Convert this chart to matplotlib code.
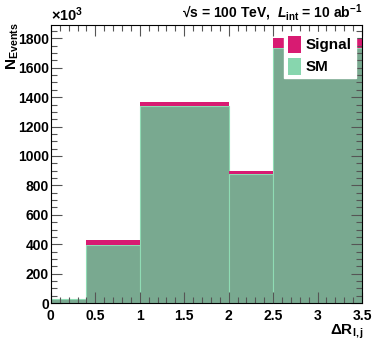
import numpy as np
import matplotlib
matplotlib.use('Agg')
import matplotlib.pyplot as plt
from matplotlib.patches import Patch
from matplotlib.ticker import MultipleLocator, FormatStrFormatter

plt.rcParams['font.family'] = ['Liberation Sans', 'DejaVu Sans']
plt.rcParams['mathtext.fontset'] = 'custom'
plt.rcParams['mathtext.rm'] = 'Liberation Sans:bold'
plt.rcParams['mathtext.it'] = 'Liberation Sans:bold:italic'
plt.rcParams['mathtext.bf'] = 'Liberation Sans:bold'

# bin edges in Delta R and event counts (x10^3)
edges = [0.0, 0.4, 1.0, 2.0, 2.5, 3.5]
sm = [27, 392, 1343, 875, 1735]
signal = [2, 40, 27, 20, 68]

sm_col = '#79a990'
sm_leg = '#87d6ae'
sig_col = '#d81b72'

fig = plt.figure(figsize=(3.74, 3.44), dpi=100)
ax = fig.add_axes([0.136, 0.119, 0.832, 0.808])

widths = np.diff(edges)
ax.bar(edges[:-1], sm, width=widths, align='edge', color=sm_col,
       edgecolor='#8fdcb4', linewidth=0.8)
ax.bar(edges[:-1], signal, width=widths, bottom=sm, align='edge',
       color=sig_col, linewidth=0)

ax.set_xlim(0, 3.5)
ax.set_ylim(0, 1890)
ax.xaxis.set_major_locator(MultipleLocator(0.5))
ax.xaxis.set_minor_locator(MultipleLocator(0.1))
ax.xaxis.set_major_formatter(FormatStrFormatter('%g'))
ax.yaxis.set_major_locator(MultipleLocator(200))
ax.yaxis.set_minor_locator(MultipleLocator(50))
ax.tick_params(which='both', direction='in', top=True, right=True,
               labelsize=10, width=0.8, color='#555555')
ax.tick_params(which='major', length=8)
ax.tick_params(which='minor', length=4)
ax.tick_params(axis='x', pad=4)
ax.tick_params(axis='y', pad=1.5)
for lab in ax.get_xticklabels() + ax.get_yticklabels():
    lab.set_fontweight('bold')
for s in ax.spines.values():
    s.set_linewidth(0.8)

ax.text(0.0, 1.005, r'$\times$10$^3$', transform=ax.transAxes,
        fontsize=10.5, ha='left', va='bottom', fontweight='bold')
ax.text(1.0, 1.027, '\u221as = 100 TeV,  $\\mathit{L}_{\\mathrm{int}}$ = 10 ab$^{-1}$',
        transform=ax.transAxes, fontsize=10, ha='right', va='baseline',
        fontweight='bold')
fig.text(0.012, 0.935, r'N$_{\mathrm{Events}}$', rotation=90, fontsize=11,
         ha='left', va='top', fontweight='bold')
fig.text(0.975, 0.01, r'$\Delta$R$_{\mathrm{l,j}}$', fontsize=11,
         ha='right', va='bottom', fontweight='bold')

handles = [Patch(facecolor=sig_col, edgecolor='none'),
           Patch(facecolor=sm_leg, edgecolor='none')]
leg = ax.legend(handles, ['Signal', 'SM'], loc='upper right',
                bbox_to_anchor=(0.98, 0.975), frameon=True, fancybox=False,
                framealpha=1, edgecolor='white', borderpad=0.25,
                handlelength=0.9, handleheight=1.3, handletextpad=0.3,
                labelspacing=0.35, borderaxespad=0.0,
                prop={'size': 11, 'weight': 'bold'})

fig.savefig('out.png', dpi=100)
